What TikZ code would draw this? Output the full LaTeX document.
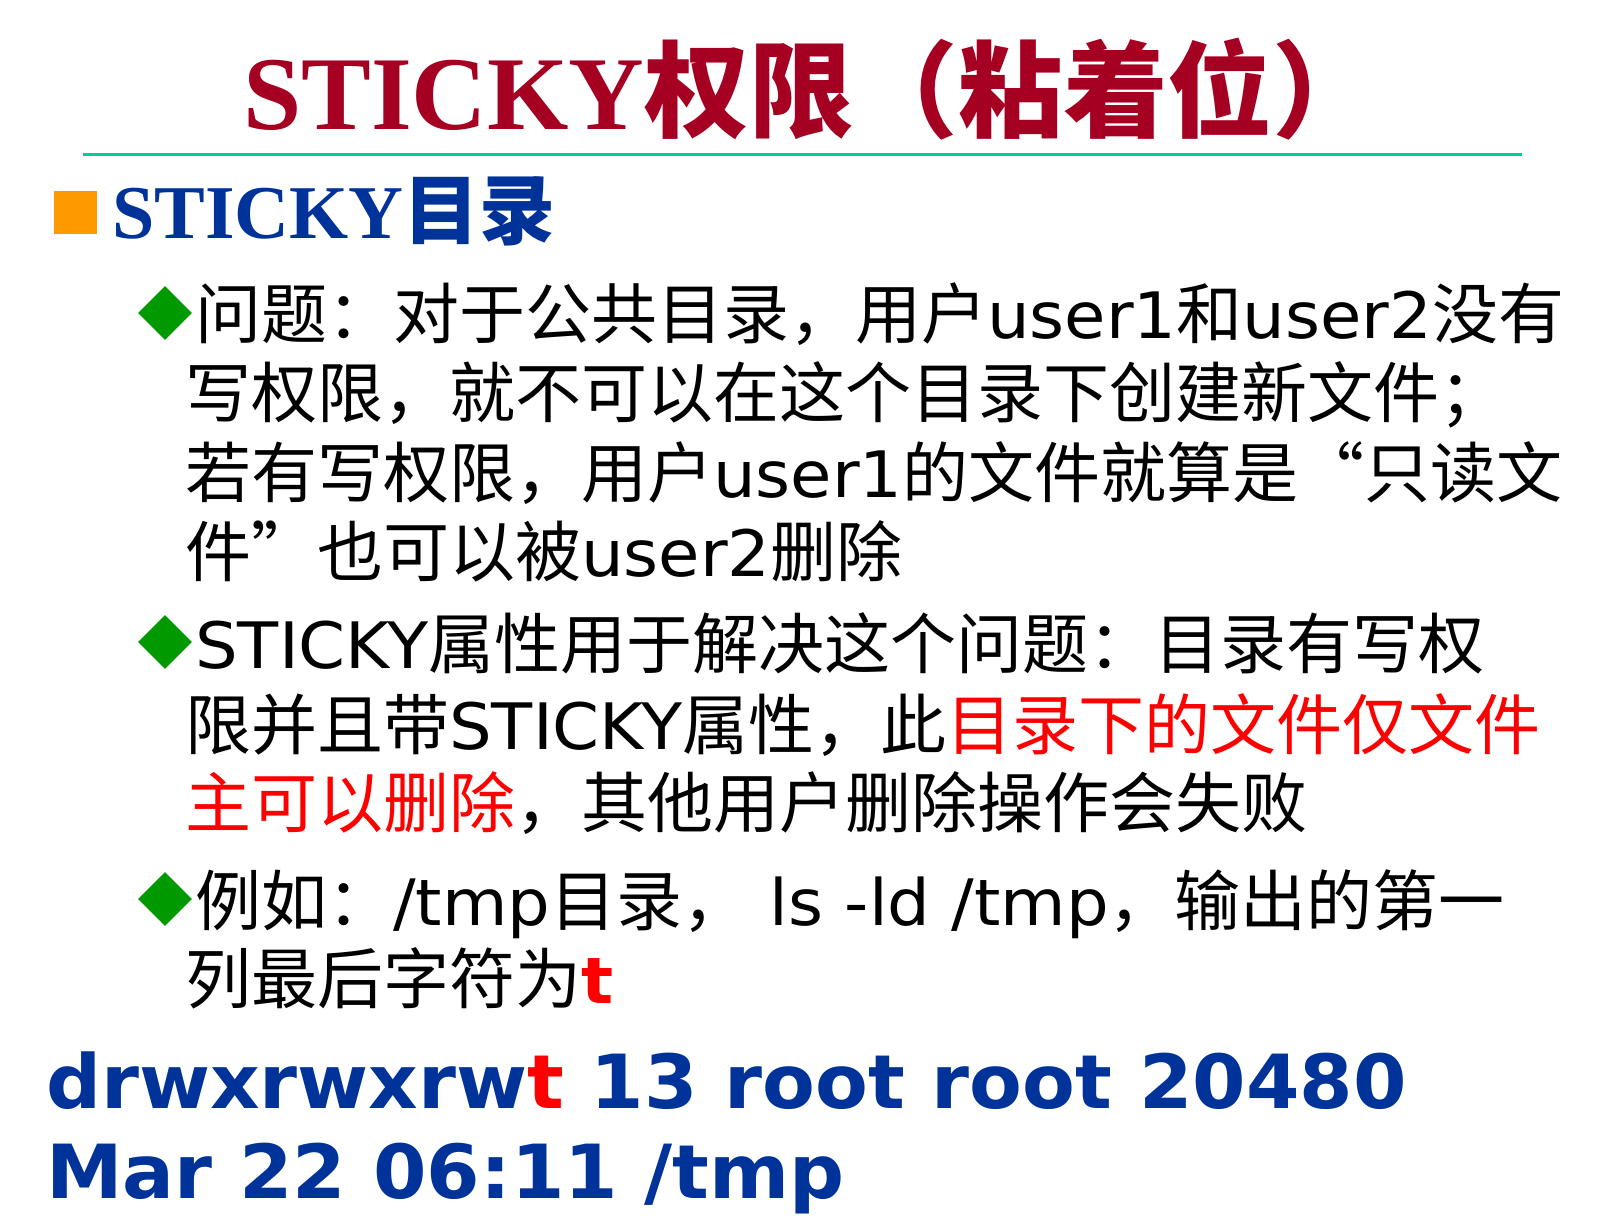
\documentclass[tikz,border=0pt]{standalone}
\usepackage{fontspec}
\usetikzlibrary{shapes.geometric}
\setmainfont{Noto Sans CJK SC}
\newfontfamily\latfont{DejaVu Sans}[Scale=0.97,FakeStretch=1.05]
\newfontfamily\codefont{DejaVu Sans}[FakeStretch=1.03]
\newfontfamily\titlefont{Liberation Serif}
\definecolor{titlered}{HTML}{A50021}
\definecolor{headblue}{HTML}{003399}
\definecolor{hlred}{HTML}{FF0000}
\definecolor{rulegreen}{HTML}{00CC99}
\definecolor{bulgreen}{HTML}{009900}
\definecolor{sqorange}{HTML}{FF9900}
\newcommand{\lat}[1]{{\latfont #1}}
\newcommand{\openq}{\makebox[1em][r]{“}}
\newcommand{\closeq}{\makebox[1em][l]{”}}
\begin{document}
\begin{tikzpicture}[x=0.75pt,y=-0.75pt,
  txt/.style={anchor=base west, inner sep=0pt, font=\fontsize{49.5pt}{58pt}\selectfont},
  bul/.style={diamond, fill=bulgreen, minimum width=40.5pt, minimum height=40.5pt, inner sep=0pt},
  code/.style={anchor=base west, inner sep=0pt, text=headblue, font=\fontsize{56pt}{66pt}\selectfont\codefont\bfseries}]
  \useasboundingbox (0,0) rectangle (1603,1219);
  % Title
  \node[anchor=base west, inner sep=0pt, text=titlered, font=\fontsize{78.5pt}{90pt}\selectfont\bfseries] (title) at (243,130) {{\titlefont STICKY}权限（粘着位）};
  \draw[rulegreen, line width=2.25pt] (83,155) -- (1522,155);
  % Heading
  \node[fill=sqorange, minimum size=32.25pt, inner sep=0pt] (hsq) at (75.5,212.5) {};
  \node[anchor=base west, inner sep=0pt, text=headblue, font=\fontsize{57pt}{66pt}\selectfont\bfseries] (head) at (112,239) {{\titlefont STICKY}目录};
  % First point
  \node[bul] (b1) at (165,313) {};
  \node[txt] (l1) at (195,339) {问题：对于公共目录，用户\lat{user1}和\lat{user2}没有};
  \node[txt] (l2) at (185,418) {写权限，就不可以在这个目录下创建新文件；};
  \node[txt] (l3) at (185,497) {若有写权限，用户\lat{user1}的文件就算是\openq 只读文};
  \node[txt] (l4) at (185,576) {件\closeq 也可以被\lat{user2}删除};
  % Second point
  \node[bul] (b2) at (165,642) {};
  \node[txt] (l5) at (195,668) {\lat{STICKY}属性用于解决这个问题：目录有写权};
  \node[txt] (l6) at (185,749) {限并且带\lat{STICKY}属性，此\textcolor{hlred}{目录下的文件仅文件}};
  \node[txt] (l7) at (185,827) {\textcolor{hlred}{主可以删除}，其他用户删除操作会失败};
  % Third point
  \node[bul] (b3) at (165,899) {};
  \node[txt] (l8) at (195,925) {例如：\lat{/tmp}目录，\lat{ ls -ld /tmp}，输出的第一};
  \node[txt] (l9) at (185,1003) {列最后字符为\textcolor{hlred}{\lat{\bfseries t}}};
  % ls output
  \node[code] (out1) at (46,1108) {drwxrwxrw\textcolor{hlred}{t} 13 root root 20480};
  \node[code] (out2) at (46,1198) {Mar 22 06:11 /tmp};
\end{tikzpicture}
\end{document}
